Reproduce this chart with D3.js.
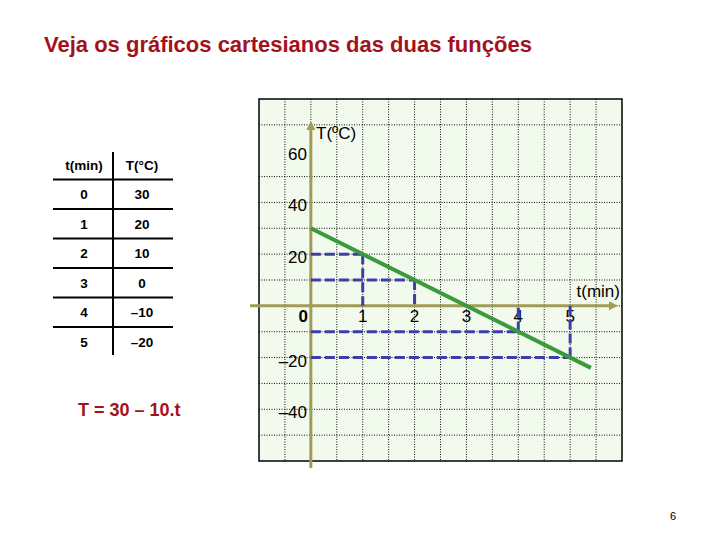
<!DOCTYPE html>
<html>
<head>
<meta charset="utf-8">
<script src="https://cdn.jsdelivr.net/npm/d3@7"></script>
<style>
  body { margin: 0; background: #fff; }
  text { font-family: Arial, "Liberation Sans", sans-serif; }
</style>
</head>
<body>
<div id="chart"></div>
<script>
// table data (tempo x temperatura)
const tempos = [0, 1, 2, 3, 4, 5];
const temps = [30, 20, 10, 0, -10, -20];
// points marked with dashed guides
const markedT = [1, 2, 4, 5];
const markedTemp = [20, 10, -10, -20];
// green line ends
const lineT = [0, 5.4];
const lineTemp = [30, -24];
// axis tick labels
const xTickVals = [0, 1, 2, 3, 4, 5];
const yTickVals = [60, 40, 20, -20, -40];
const yTickText = ["60", "40", "20", "\u201320", "\u201340"];

const W = 720, H = 540;
const svg = d3.select("#chart").append("svg")
    .attr("width", W)
    .attr("height", H);

// title
svg.append("text")
    .attr("x", 44).attr("y", 52)
    .attr("font-size", 22).attr("font-weight", "bold")
    .attr("fill", "#a3121a")
    .text("Veja os gráficos cartesianos das duas funções");

// ---------- table ----------
let rowY = d3.scaleLinear().domain([0, 6]).range([165, 342]);
let colX = [84, 142];
let tbl = svg.append("g");
tbl.append("line")
    .attr("x1", 113).attr("x2", 113)
    .attr("y1", 152).attr("y2", 355)
    .attr("stroke", "#000").attr("stroke-width", 2);
tbl.selectAll("line.h")
    .data(d3.range(6))
    .enter().append("line")
    .attr("class", "h")
    .attr("x1", 53).attr("x2", 173)
    .attr("y1", i => rowY(i) + 14.5)
    .attr("y2", i => rowY(i) + 14.5)
    .attr("stroke", "#000").attr("stroke-width", 2);

let header = ["t(min)", "T(\u00B0C)"];
tbl.selectAll("text.hd")
    .data(header)
    .enter().append("text")
    .attr("class", "hd")
    .attr("x", (d, i) => colX[i])
    .attr("y", rowY(0))
    .attr("dy", "0.35em")
    .attr("text-anchor", "middle")
    .attr("font-size", 13.5).attr("font-weight", "bold")
    .text(d => d);

let rows = tbl.selectAll("g.row")
    .data(tempos)
    .enter().append("g")
    .attr("class", "row");
rows.append("text")
    .attr("x", colX[0])
    .attr("y", (d, i) => rowY(i + 1))
    .attr("dy", "0.35em")
    .attr("text-anchor", "middle")
    .attr("font-size", 13.5).attr("font-weight", "bold")
    .text(d => d);
rows.append("text")
    .attr("x", colX[1])
    .attr("y", (d, i) => rowY(i + 1))
    .attr("dy", "0.35em")
    .attr("text-anchor", "middle")
    .attr("font-size", 13.5).attr("font-weight", "bold")
    .text((d, i) => temps[i] < 0 ? "\u2013" + Math.abs(temps[i]) : temps[i]);

// formula
svg.append("text")
    .attr("x", 78).attr("y", 416)
    .attr("font-size", 18).attr("font-weight", "bold")
    .attr("fill", "#a3121a")
    .text("T = 30 \u2013 10.t");

// ---------- graph ----------
let x = d3.scaleLinear().domain([-1, 6]).range([259, 622]);
let y = d3.scaleLinear().domain([-60, 80]).range([461, 99]);

let plot = svg.append("g");
plot.append("rect")
    .attr("x", x(-1)).attr("y", y(80))
    .attr("width", x(6) - x(-1))
    .attr("height", y(-60) - y(80))
    .attr("fill", "#f2faee");

// dotted grid
let gx = x.ticks(14).filter(v => v > -1 && v < 6);
let gy = y.ticks(14).filter(v => v > -60 && v < 80 && v !== 60);
plot.selectAll("line.gx")
    .data(gx)
    .enter().append("line")
    .attr("class", "gx")
    .attr("x1", d => x(d)).attr("x2", d => x(d))
    .attr("y1", y(80)).attr("y2", y(-60))
    .attr("stroke", "#111").attr("stroke-width", 1)
    .attr("stroke-dasharray", "1,1.5");
plot.selectAll("line.gy")
    .data(gy)
    .enter().append("line")
    .attr("class", "gy")
    .attr("x1", x(-1)).attr("x2", x(6))
    .attr("y1", d => y(d)).attr("y2", d => y(d))
    .attr("stroke", "#111").attr("stroke-width", 1)
    .attr("stroke-dasharray", "1,1.5");

plot.append("rect")
    .attr("x", x(-1)).attr("y", y(80))
    .attr("width", x(6) - x(-1))
    .attr("height", y(-60) - y(80))
    .attr("fill", "none")
    .attr("stroke", "#000").attr("stroke-width", 1.5);

// axes with arrows
const axisCol = "#a09c55";
plot.append("line")
    .attr("x1", x(0)).attr("x2", x(0))
    .attr("y1", 468).attr("y2", 128)
    .attr("stroke", axisCol).attr("stroke-width", 3);
plot.append("path")
    .attr("d", `M${x(0) - 4.5},130 L${x(0)},121 L${x(0) + 4.5},130 Z`)
    .attr("fill", axisCol);
plot.append("line")
    .attr("x1", 250).attr("x2", 611)
    .attr("y1", y(0)).attr("y2", y(0))
    .attr("stroke", axisCol).attr("stroke-width", 3);
plot.append("path")
    .attr("d", `M609,${y(0) - 4.5} L618,${y(0)} L609,${y(0) + 4.5} Z`)
    .attr("fill", axisCol);

// tick labels
plot.selectAll("text.xl")
    .data(xTickVals)
    .enter().append("text")
    .attr("class", "xl")
    .attr("x", d => d === 0 ? x(0) - 7.5 : x(d))
    .attr("y", 322)
    .attr("text-anchor", "middle")
    .attr("font-size", 17)
    .attr("font-weight", d => d === 0 ? "bold" : "normal")
    .text(d => d);
plot.selectAll("text.yl")
    .data(yTickVals)
    .enter().append("text")
    .attr("class", "yl")
    .attr("x", 307)
    .attr("y", d => y(d) + 3)
    .attr("dy", "0.35em")
    .attr("text-anchor", "end")
    .attr("font-size", 17)
    .text((d, i) => yTickText[i]);

plot.append("text")
    .attr("x", 316).attr("y", 139)
    .attr("font-size", 17)
    .text("T(\u00BAC)");
plot.append("text")
    .attr("x", 620).attr("y", 297)
    .attr("text-anchor", "end")
    .attr("font-size", 17)
    .text("t(min)");

// dashed guides
const dashCol = "#3e3ea8";
let guides = plot.selectAll("g.guide")
    .data(markedT)
    .enter().append("g")
    .attr("class", "guide");
guides.append("line")
    .attr("x1", x(0)).attr("x2", d => x(d))
    .attr("y1", (d, i) => y(markedTemp[i]))
    .attr("y2", (d, i) => y(markedTemp[i]))
    .attr("stroke", dashCol).attr("stroke-width", 3)
    .attr("stroke-dasharray", "10,4");
guides.append("line")
    .attr("x1", d => x(d)).attr("x2", d => x(d))
    .attr("y1", (d, i) => y(markedTemp[i]))
    .attr("y2", y(0))
    .attr("stroke", dashCol).attr("stroke-width", 3)
    .attr("stroke-dasharray", "10,4");

// the function line
let line = d3.line()
    .x((d, i) => x(lineT[i]))
    .y(d => y(d));
plot.append("path")
    .datum(lineTemp)
    .attr("d", line)
    .attr("fill", "none")
    .attr("stroke", "#3b9a3b")
    .attr("stroke-width", 4);

// page number
svg.append("text")
    .attr("x", 673).attr("y", 520)
    .attr("text-anchor", "middle")
    .attr("font-size", 11)
    .text("6");
</script>
</body>
</html>
